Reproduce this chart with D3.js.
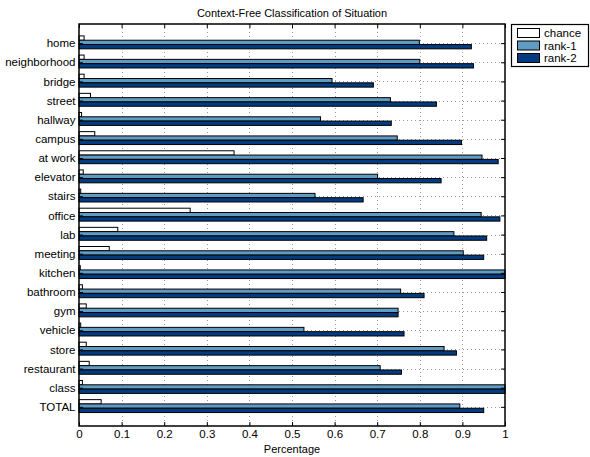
<!DOCTYPE html>
<html>
<head>
<meta charset="utf-8">
<script src="https://cdn.jsdelivr.net/npm/d3@7"></script>
<style>
  body { margin: 0; background: #fff; }
  svg text { font-family: "Liberation Sans", Arial, sans-serif; fill: #000; }
</style>
</head>
<body>
<svg id="chart" width="590" height="457"></svg>
<script>
// categories top to bottom
var categories = ['home', 'neighborhood', 'bridge', 'street', 'hallway', 'campus', 'at work',
  'elevator', 'stairs', 'office', 'lab', 'meeting', 'kitchen', 'bathroom', 'gym',
  'vehicle', 'store', 'restaurant', 'class', 'TOTAL'];
var chance = [0.012, 0.012, 0.012, 0.027, 0.006, 0.037, 0.364, 0.010, 0.004, 0.261,
  0.091, 0.071, 0.003, 0.008, 0.017, 0.004, 0.017, 0.024, 0.008, 0.052];
var rank1 = [0.799, 0.800, 0.594, 0.731, 0.567, 0.747, 0.946, 0.701, 0.554, 0.944,
  0.880, 0.902, 1.0, 0.755, 0.749, 0.528, 0.857, 0.707, 1.0, 0.894];
var rank2 = [0.921, 0.926, 0.691, 0.839, 0.733, 0.898, 0.984, 0.850, 0.667, 0.988,
  0.957, 0.950, 1.0, 0.810, 0.749, 0.763, 0.886, 0.757, 1.0, 0.950];
var seriesNames = ['chance', 'rank-1', 'rank-2'];
var seriesColors = ['#ffffff', '#5e9cc4', '#023b80'];
var xTicks = [0, 0.1, 0.2, 0.3, 0.4, 0.5, 0.6, 0.7, 0.8, 0.9, 1];

(function() {
  var svg = d3.select('#chart');
  var plotL = 79, plotR = 505, plotT = 24, plotB = 426;

  var x = d3.scaleLinear().domain([0, 1]).range([plotL, plotR]);
  // groups sit at 1..n, axis goes from 0 to n+1 like matlab barh
  var y = d3.scaleLinear().domain([0, categories.length + 1]).range([plotT, plotB]);

  var series = [chance, rank1, rank2];
  var barH = 0.225; // in group units
  var rows = [];
  categories.forEach(function(c, i) {
    series.forEach(function(s, k) {
      rows.push({ cat: c, i: i, k: k, v: s[i] });
    });
  });

  // grid, dotted
  var grid = svg.append('g');
  xTicks.slice(1, -1).forEach(function(t) {
    grid.append('line').attr('x1', Math.round(x(t)) + 0.5).attr('x2', Math.round(x(t)) + 0.5).attr('y1', plotT).attr('y2', plotB)
      .attr('stroke', '#9a9a9a').attr('stroke-width', 1).attr('stroke-dasharray', '1,3');
  });
  categories.forEach(function(c, i) {
    grid.append('line').attr('x1', plotL).attr('x2', plotR).attr('y1', Math.round(y(i + 1)) + 0.5).attr('y2', Math.round(y(i + 1)) + 0.5)
      .attr('stroke', '#9a9a9a').attr('stroke-width', 1).attr('stroke-dasharray', '1,3');
  });

  // bars
  svg.append('g').selectAll('rect').data(rows).enter().append('rect')
    .attr('x', x(0))
    .attr('y', function(d) { return y(d.i + 1 + (d.k - 1.5) * barH - 0.04); })
    .attr('width', function(d) { return x(d.v) - x(0); })
    .attr('height', function(d) { return y(barH) - y(0); })
    .attr('fill', function(d) { return seriesColors[d.k]; })
    .attr('stroke', '#000').attr('stroke-width', 1);

  // axes box
  svg.append('rect').attr('x', plotL).attr('y', plotT).attr('width', plotR - plotL).attr('height', plotB - plotT)
    .attr('fill', 'none').attr('stroke', '#000').attr('stroke-width', 1.5);

  var xAxis = d3.axisBottom(x).tickValues(xTicks).tickSize(-4).tickPadding(4)
    .tickFormat(function(d) { return d === 0 || d === 1 ? d3.format('d')(d) : d3.format('.1f')(d); });
  var gx = svg.append('g').attr('transform', 'translate(0,' + plotB + ')').call(xAxis);
  gx.select('.domain').remove();
  gx.selectAll('text').style('font-size', '11.5px');

  var gxTop = svg.append('g').attr('transform', 'translate(0,' + plotT + ')')
    .call(d3.axisTop(x).tickValues(xTicks).tickSize(-4).tickFormat(''));
  gxTop.select('.domain').remove();

  var yAxis = d3.axisLeft(y).tickValues(d3.range(1, categories.length + 1)).tickSize(-4).tickPadding(3.5)
    .tickFormat(function(d) { return categories[d - 1]; });
  var gy = svg.append('g').attr('transform', 'translate(' + plotL + ',0)').call(yAxis);
  gy.select('.domain').remove();
  gy.selectAll('text').style('font-size', '11.5px');

  var gyR = svg.append('g').attr('transform', 'translate(' + plotR + ',0)')
    .call(d3.axisRight(y).tickValues(d3.range(1, categories.length + 1)).tickSize(-4).tickFormat(''));
  gyR.select('.domain').remove();

  // title and x label
  svg.append('text').attr('x', (plotL + plotR) / 2).attr('y', 17).attr('text-anchor', 'middle')
    .style('font-size', '11px').text('Context-Free Classification of Situation');
  svg.append('text').attr('x', (plotL + plotR) / 2).attr('y', 453).attr('text-anchor', 'middle')
    .style('font-size', '11px').text('Percentage');

  // legend
  var lg = svg.append('g');
  lg.append('rect').attr('x', 511.5).attr('y', 24.5).attr('width', 77).attr('height', 42)
    .attr('fill', '#fff').attr('stroke', '#000').attr('stroke-width', 1.2);
  seriesNames.forEach(function(n, k) {
    var yy = 28 + k * 12.5;
    lg.append('rect').attr('x', 517.5).attr('y', yy + 0.5).attr('width', 22).attr('height', 9)
      .attr('fill', seriesColors[k]).attr('stroke', '#000').attr('stroke-width', 1);
    lg.append('text').attr('x', 544).attr('y', yy + 9).style('font-size', '11.5px').text(n);
  });
})();
</script>
</body>
</html>
